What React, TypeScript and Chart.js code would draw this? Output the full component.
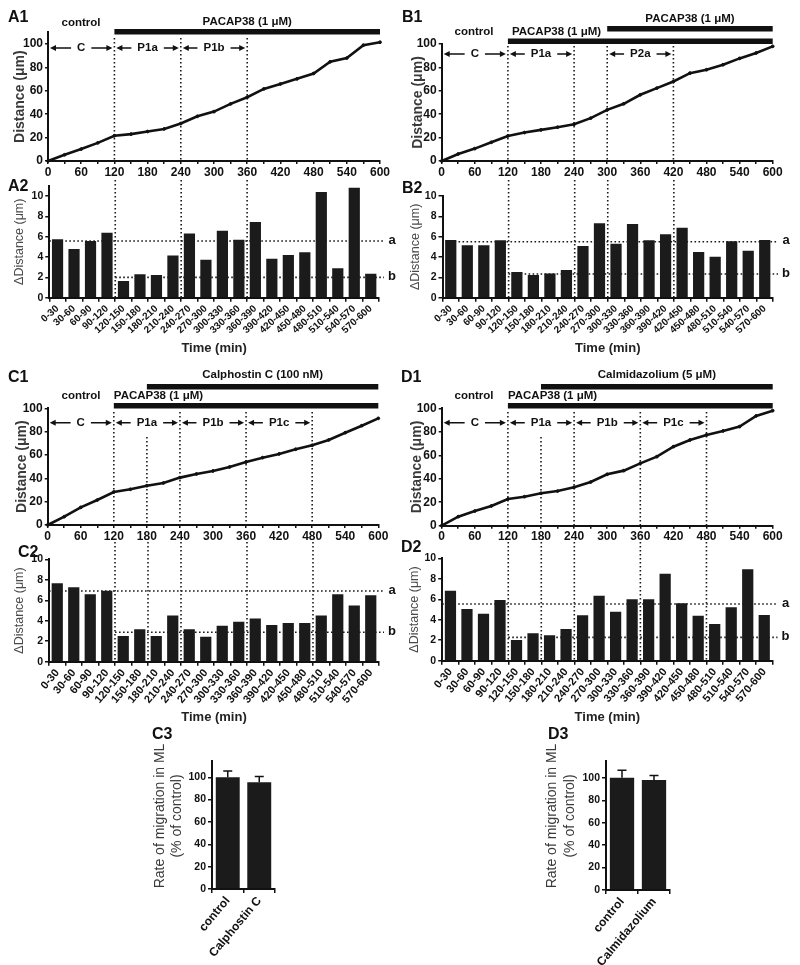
import React, { useEffect, useRef } from "react";
import { Chart, registerables } from "chart.js";
Chart.register(...registerables);

const FONT = "'Liberation Sans', Arial, Helvetica, sans-serif";
Chart.defaults.font.family = FONT;

// ---------- data ----------
const TIMES = [0, 30, 60, 90, 120, 150, 180, 210, 240, 270, 300, 330, 360, 390, 420, 450, 480, 510, 540, 570, 600];
const INTERVALS = ["0-30", "30-60", "60-90", "90-120", "120-150", "150-180", "180-210", "210-240", "240-270", "270-300", "300-330", "330-360", "360-390", "390-420", "420-450", "450-480", "480-510", "510-540", "540-570", "570-600"];

const A1_DISTANCE = [0, 5.3, 10.2, 15.5, 21.6, 23, 25.2, 27.4, 32, 38.2, 42.2, 48.8, 54.5, 61.6, 65.8, 70.2, 74.8, 84.8, 88, 99, 101.5];
const A2_DELTA = [5.74, 4.79, 5.57, 6.39, 1.64, 2.3, 2.23, 4.16, 6.3, 3.74, 6.59, 5.7, 7.44, 3.84, 4.2, 4.46, 10.39, 2.89, 10.82, 2.36];
const A2_LEVELS = [5.57, 2.0];

const B1_DISTANCE = [0, 6, 10.6, 16, 21.4, 24.3, 26.6, 28.9, 31.4, 36.6, 43.7, 48.9, 56.6, 62.3, 68, 75.1, 78, 82.3, 87.7, 92.3, 98];
const B2_DELTA = [5.67, 5.15, 5.15, 5.64, 2.52, 2.23, 2.39, 2.72, 5.08, 7.31, 5.31, 7.25, 5.64, 6.23, 6.89, 4.49, 4.03, 5.54, 4.62, 5.67];
const B2_LEVELS = [5.5, 2.33];

const C1_DISTANCE = [0, 7.1, 15.1, 21.4, 28.3, 30.6, 33.7, 36, 40.6, 43.7, 46.3, 49.7, 54, 57.7, 60.9, 64.9, 68.3, 72.9, 79.1, 85.1, 91.4];
const C2_DELTA = [7.65, 7.26, 6.58, 6.94, 2.51, 3.16, 2.51, 4.5, 3.16, 2.44, 3.52, 3.91, 4.23, 3.58, 3.78, 3.78, 4.5, 6.58, 5.5, 6.48];
const C2_LEVELS = [6.9, 2.87];

const D1_DISTANCE = [0, 7.7, 12.5, 16.8, 22.7, 24.7, 27.6, 29.5, 32.7, 37.2, 43.8, 46.9, 53.1, 58.8, 67.3, 73, 77.3, 80.7, 84.4, 93.5, 98];
const D2_DELTA = [6.84, 5.05, 4.59, 5.93, 2.02, 2.67, 2.48, 3.09, 4.43, 6.35, 4.79, 5.99, 5.99, 8.5, 5.6, 4.4, 3.58, 5.21, 8.92, 4.46];
const D2_LEVELS = [5.54, 2.28];

const LEVEL_NAMES = ["a", "b"];
const LEVEL_START = [0, 120];

const A_PHASES: [number, number, string][] = [[0, 120, "C"], [120, 240, "P1a"], [240, 360, "P1b"]];
const B_PHASES: [number, number, string][] = [[0, 120, "C"], [120, 240, "P1a"], [300, 420, "P2a"]];
const CD_PHASES: [number, number, string][] = [[0, 120, "C"], [120, 240, "P1a"], [240, 360, "P1b"], [360, 480, "P1c"]];

const A_MARKERS = [120, 240, 360];
const B_MARKERS = [120, 240, 300, 420];
const CD_MARKERS = [120, 240, 360, 480];
const CD_SUBMARKERS = [180];
const CD2_MARKERS = [120, 180, 240, 360, 480];

const A_TREATMENTS: [number, number, string][] = [[120, 600, "PACAP38 (1 μM)"]];
const B_TREATMENTS: [number, number, string][] = [[120, 600, "PACAP38 (1 μM)"], [300, 600, "PACAP38 (1 μM)"]];
const C_TREATMENTS: [number, number, string][] = [[120, 600, "PACAP38 (1 μM)"], [180, 600, "Calphostin C (100 nM)"]];
const D_TREATMENTS: [number, number, string][] = [[120, 600, "PACAP38 (1 μM)"], [180, 600, "Calmidazolium (5 μM)"]];

const C3_GROUPS = ["control", "Calphostin C"];
const C3_RATE = [100, 95.5];
const C3_SEM = [5.7, 5.1];
const D3_GROUPS = ["control", "Calmidazolium"];
const D3_RATE = [100, 98];
const D3_SEM = [6.8, 4.1];
const RATE_TITLE = ["Rate of migration in ML", "(% of control)"];

// ---------- helpers ----------
const INK = "#111";
const BAR = "#1b1b1b";

type Rect = { x: number; y: number; w: number; h: number };
type Plot = { l: number; r: number; t: number; b: number };

function frame(rect: Rect, plot: Plot) {
  return {
    padTop: plot.t - rect.y,
    padRight: rect.x + rect.w - plot.r,
    wy: plot.l - rect.x,
    hx: rect.y + rect.h - plot.b,
  };
}

function axisStyle(tickLength: number) {
  return {
    grid: { drawOnChartArea: false, drawTicks: true, tickLength, color: INK, lineWidth: 1.5 },
    border: { display: true, color: INK, width: 2 },
  };
}

function dotted(ctx: any, x1: number, y1: number, x2: number, y2: number) {
  ctx.save();
  ctx.strokeStyle = "#1a1a1a";
  ctx.lineWidth = 1.6;
  ctx.setLineDash([1.6, 2.4]);
  ctx.beginPath();
  ctx.moveTo(x1, y1);
  ctx.lineTo(x2, y2);
  ctx.stroke();
  ctx.restore();
}

function arrowHead(ctx: any, x: number, y: number, dir: number) {
  ctx.beginPath();
  ctx.moveTo(x, y);
  ctx.lineTo(x - dir * 6, y - 3);
  ctx.lineTo(x - dir * 6, y + 3);
  ctx.closePath();
  ctx.fill();
}

// ---------- line panels ----------
function lineConfig(s: any) {
  const f = frame(s.rect, s.plot);
  const plugin = {
    id: "lineAnn",
    beforeDatasetsDraw(chart: any) {
      const ctx = chart.ctx;
      const x = chart.scales.x;
      const bottom = chart.chartArea.bottom;
      s.markers.forEach((m: number) => dotted(ctx, x.getPixelForValue(m), s.markerTop, x.getPixelForValue(m), bottom));
      (s.subMarkers || []).forEach((m: number) => dotted(ctx, x.getPixelForValue(m), s.subTop, x.getPixelForValue(m), bottom));
    },
    afterDraw(chart: any) {
      const ctx = chart.ctx;
      const x = chart.scales.x;
      ctx.save();
      ctx.fillStyle = INK;
      ctx.strokeStyle = INK;
      ctx.textBaseline = "middle";
      ctx.font = `bold 16px ${FONT}`;
      ctx.textAlign = "left";
      ctx.fillText(s.label.text, s.label.x, s.label.y);
      ctx.font = `bold 11.5px ${FONT}`;
      ctx.textAlign = "center";
      ctx.fillText("control", s.control.x, s.control.y);
      s.treatments.forEach((t: [number, number, string], i: number) => {
        const lay = s.treatLayout[i];
        const x1 = x.getPixelForValue(t[0]);
        const x2 = x.getPixelForValue(t[1]);
        ctx.fillRect(x1, lay.barY, x2 - x1, 5.5);
        if (lay.align === "center") {
          ctx.textAlign = "center";
          ctx.fillText(t[2], (x1 + x2) / 2, lay.textY);
        } else {
          ctx.textAlign = "left";
          ctx.fillText(t[2], x1 + lay.dx, lay.textY);
        }
      });
      const y = s.arrowY;
      s.phases.forEach(([a, b, lab]: [number, number, string]) => {
        const x1 = x.getPixelForValue(a) + 2;
        const x2 = x.getPixelForValue(b) - 2;
        const mid = (x1 + x2) / 2;
        const w = ctx.measureText(lab).width;
        ctx.lineWidth = 1.4;
        ctx.beginPath();
        ctx.moveTo(x1 + 4, y);
        ctx.lineTo(mid - w / 2 - 6, y);
        ctx.moveTo(mid + w / 2 + 6, y);
        ctx.lineTo(x2 - 4, y);
        ctx.stroke();
        arrowHead(ctx, x1, y, -1);
        arrowHead(ctx, x2, y, 1);
        ctx.textAlign = "center";
        ctx.fillText(lab, mid, y);
      });
      ctx.restore();
    },
  };
  return {
    type: "line",
    data: {
      datasets: [
        {
          data: TIMES.map((t, i) => ({ x: t, y: s.values[i] })),
          borderColor: INK,
          borderWidth: 2.6,
          pointRadius: 1.4,
          pointBackgroundColor: INK,
          pointBorderColor: INK,
          pointBorderWidth: 1,
          tension: 0,
          clip: false,
        },
      ],
    },
    options: {
      responsive: false,
      animation: false,
      devicePixelRatio: 1,
      layout: { padding: { top: f.padTop, right: f.padRight, left: 0, bottom: 0 } },
      plugins: { legend: { display: false }, tooltip: { enabled: false } },
      scales: {
        x: {
          type: "linear",
          min: 0,
          max: 600,
          afterFit: (sc: any) => { sc.height = f.hx; },
          ticks: {
            stepSize: 30,
            autoSkip: false,
            maxRotation: 0,
            padding: 1,
            color: INK,
            font: { size: 12, weight: "bold" },
            callback: (v: number) => (v % 60 === 0 ? String(v) : ""),
          },
          ...axisStyle(3),
        },
        y: {
          min: 0,
          max: s.yMax,
          afterFit: (sc: any) => { sc.width = f.wy; },
          ticks: { stepSize: 20, includeBounds: false, padding: 2, color: INK, font: { size: 12, weight: "bold" } },
          title: {
            display: true,
            text: "Distance (μm)",
            color: "#3a3a3a",
            font: { size: 14, weight: "bold" },
            padding: { top: s.yTitlePad, bottom: 0 },
          },
          ...axisStyle(3),
        },
      },
    },
    plugins: [plugin],
  };
}

// ---------- bar panels ----------
function barConfig(s: any) {
  const f = frame(s.rect, s.plot);
  const toIdx = (m: number) => m / 30 - 0.5;
  const plugin = {
    id: "barAnn",
    beforeDatasetsDraw(chart: any) {
      const ctx = chart.ctx;
      const x = chart.scales.x;
      const y = chart.scales.y;
      const { bottom, right } = chart.chartArea;
      s.levels.forEach((v: number, i: number) => {
        const py = y.getPixelForValue(v);
        dotted(ctx, x.getPixelForValue(toIdx(LEVEL_START[i])), py, right + 5, py);
      });
      s.markers.forEach((m: number) => {
        const px = x.getPixelForValue(toIdx(m));
        dotted(ctx, px, s.markerTop, px, bottom);
      });
    },
    afterDraw(chart: any) {
      const ctx = chart.ctx;
      const y = chart.scales.y;
      const { right } = chart.chartArea;
      ctx.save();
      ctx.fillStyle = INK;
      ctx.textBaseline = "middle";
      ctx.font = `bold 16px ${FONT}`;
      ctx.textAlign = "left";
      ctx.fillText(s.label.text, s.label.x, s.label.y);
      ctx.font = `bold 13px ${FONT}`;
      ctx.textAlign = "center";
      s.levels.forEach((v: number, i: number) => {
        ctx.fillText(LEVEL_NAMES[i], right + 13, y.getPixelForValue(v) - 1);
      });
      ctx.restore();
    },
  };
  return {
    type: "bar",
    data: {
      labels: INTERVALS,
      datasets: [{ data: s.values, backgroundColor: BAR, barPercentage: 0.68, categoryPercentage: 1 }],
    },
    options: {
      responsive: false,
      animation: false,
      devicePixelRatio: 1,
      layout: { padding: { top: f.padTop, right: f.padRight, left: 0, bottom: 0 } },
      plugins: { legend: { display: false }, tooltip: { enabled: false } },
      scales: {
        x: {
          afterFit: (sc: any) => { sc.height = f.hx; },
          ticks: {
            autoSkip: false,
            minRotation: s.rot,
            maxRotation: s.rot,
            padding: 1,
            color: INK,
            font: { size: s.tickSize, weight: "bold" },
          },
          title: {
            display: true,
            text: "Time (min)",
            color: "#222",
            font: { size: 13, weight: "bold" },
            padding: { top: 0, bottom: s.xTitlePad },
          },
          ...axisStyle(4),
        },
        y: {
          min: 0,
          max: s.yMax,
          afterFit: (sc: any) => { sc.width = f.wy; },
          ticks: { stepSize: 2, includeBounds: false, padding: 2, color: INK, font: { size: 10.5, weight: "bold" } },
          title: {
            display: true,
            text: "ΔDistance (μm)",
            color: "#4a4a4a",
            font: { size: 12.5 },
            padding: { top: s.yTitlePad, bottom: 0 },
          },
          ...axisStyle(4),
        },
      },
    },
    plugins: [plugin],
  };
}

// ---------- rate panels ----------
function rateConfig(s: any) {
  const f = frame(s.rect, s.plot);
  const plugin = {
    id: "rateAnn",
    afterDatasetsDraw(chart: any) {
      const ctx = chart.ctx;
      const x = chart.scales.x;
      const y = chart.scales.y;
      ctx.save();
      ctx.strokeStyle = INK;
      ctx.lineWidth = 1.5;
      s.values.forEach((v: number, i: number) => {
        const px = x.getPixelForValue(i);
        const y1 = y.getPixelForValue(v);
        const y2 = y.getPixelForValue(v + s.sem[i]);
        ctx.beginPath();
        ctx.moveTo(px, y1);
        ctx.lineTo(px, y2);
        ctx.moveTo(px - 4.5, y2);
        ctx.lineTo(px + 4.5, y2);
        ctx.stroke();
      });
      ctx.restore();
    },
    afterDraw(chart: any) {
      const ctx = chart.ctx;
      ctx.save();
      ctx.fillStyle = INK;
      ctx.textBaseline = "middle";
      ctx.textAlign = "left";
      ctx.font = `bold 16px ${FONT}`;
      ctx.fillText(s.label.text, s.label.x, s.label.y);
      // axis title (two lines, rotated)
      ctx.fillStyle = "#3a3a3a";
      ctx.font = `14px ${FONT}`;
      ctx.textAlign = "center";
      RATE_TITLE.forEach((line, i) => {
        ctx.save();
        ctx.translate(s.titleX[i], s.titleY);
        ctx.rotate(-Math.PI / 2);
        ctx.fillText(line, 0, 0);
        ctx.restore();
      });
      ctx.restore();
    },
  };
  return {
    type: "bar",
    data: {
      labels: s.groups,
      datasets: [{ data: s.values, backgroundColor: BAR, barPercentage: 0.76, categoryPercentage: 1 }],
    },
    options: {
      responsive: false,
      animation: false,
      devicePixelRatio: 1,
      layout: { padding: { top: f.padTop, right: f.padRight, left: 0, bottom: 0 } },
      plugins: { legend: { display: false }, tooltip: { enabled: false } },
      scales: {
        x: {
          afterFit: (sc: any) => { sc.height = f.hx; },
          ticks: { autoSkip: false, minRotation: 50, maxRotation: 50, padding: 1, color: INK, font: { size: 12, weight: "bold" } },
          ...axisStyle(4),
        },
        y: {
          min: 0,
          max: 115,
          afterFit: (sc: any) => { sc.width = f.wy; },
          ticks: { stepSize: 20, includeBounds: false, padding: 2, color: INK, font: { size: 10.5, weight: "bold" } },
          ...axisStyle(4),
        },
      },
    },
    plugins: [plugin],
  };
}

// ---------- panel specs (layout) ----------
const PANELS: { rect: Rect; make: () => any }[] = [
  {
    rect: { x: 0, y: 0, w: 400, h: 185 },
    make: () => lineConfig({
      rect: { x: 0, y: 0, w: 400, h: 185 }, plot: { l: 48, r: 380, t: 32.3, b: 161 },
      values: A1_DISTANCE, yMax: 110, yTitlePad: 11.6,
      label: { text: "A1", x: 8, y: 18 }, control: { x: 81, y: 23 },
      treatments: A_TREATMENTS, treatLayout: [{ barY: 29, textY: 22, align: "center" }],
      phases: A_PHASES, arrowY: 48, markers: A_MARKERS, markerTop: 38,
    }),
  },
  {
    rect: { x: 400, y: 0, w: 400, h: 185 },
    make: () => lineConfig({
      rect: { x: 400, y: 0, w: 400, h: 185 }, plot: { l: 441.7, r: 772.7, t: 44, b: 161 },
      values: B1_DISTANCE, yMax: 100, yTitlePad: 9.6,
      label: { text: "B1", x: 2, y: 18 }, control: { x: 74, y: 32 },
      treatments: B_TREATMENTS,
      treatLayout: [{ barY: 38.5, textY: 32, align: "left", dx: 4 }, { barY: 26, textY: 19, align: "center" }],
      phases: B_PHASES, arrowY: 54, markers: B_MARKERS, markerTop: 46,
    }),
  },
  {
    rect: { x: 0, y: 365, w: 400, h: 180 },
    make: () => lineConfig({
      rect: { x: 0, y: 365, w: 400, h: 180 }, plot: { l: 47.7, r: 378.3, t: 408.3, b: 525 },
      values: C1_DISTANCE, yMax: 100, yTitlePad: 13.3,
      label: { text: "C1", x: 8, y: 13 }, control: { x: 81, y: 31 },
      treatments: C_TREATMENTS,
      treatLayout: [{ barY: 38, textY: 31, align: "left", dx: 0 }, { barY: 19, textY: 10, align: "center" }],
      phases: CD_PHASES, arrowY: 57.7, markers: CD_MARKERS, markerTop: 47, subMarkers: CD_SUBMARKERS, subTop: 72,
    }),
  },
  {
    rect: { x: 400, y: 365, w: 400, h: 180 },
    make: () => lineConfig({
      rect: { x: 400, y: 365, w: 400, h: 180 }, plot: { l: 441.7, r: 772.7, t: 408.3, b: 525.7 },
      values: D1_DISTANCE, yMax: 100, yTitlePad: 8.6,
      label: { text: "D1", x: 1, y: 13 }, control: { x: 74, y: 31 },
      treatments: D_TREATMENTS,
      treatLayout: [{ barY: 38, textY: 31, align: "left", dx: 0 }, { barY: 19, textY: 10, align: "center" }],
      phases: CD_PHASES, arrowY: 57.7, markers: CD_MARKERS, markerTop: 47, subMarkers: CD_SUBMARKERS, subTop: 72,
    }),
  },
  {
    rect: { x: 0, y: 175, w: 400, h: 190 },
    make: () => barConfig({
      rect: { x: 0, y: 175, w: 400, h: 190 }, plot: { l: 49.3, r: 379, t: 185.8, b: 297.7 },
      values: A2_DELTA, levels: A2_LEVELS, yMax: 11, rot: 42, tickSize: 10, yTitlePad: 12.5, xTitlePad: 9.2,
      label: { text: "A2", x: 8, y: 12 }, markers: A_MARKERS, markerTop: 5,
    }),
  },
  {
    rect: { x: 400, y: 175, w: 400, h: 190 },
    make: () => barConfig({
      rect: { x: 400, y: 175, w: 400, h: 190 }, plot: { l: 442.5, r: 773, t: 196, b: 297.7 },
      values: B2_DELTA, levels: B2_LEVELS, yMax: 10, rot: 42, tickSize: 10, yTitlePad: 8.5, xTitlePad: 9.2,
      label: { text: "B2", x: 2, y: 14 }, markers: B_MARKERS, markerTop: 5,
    }),
  },
  {
    rect: { x: 0, y: 535, w: 400, h: 210 },
    make: () => barConfig({
      rect: { x: 0, y: 535, w: 400, h: 210 }, plot: { l: 49, r: 379, t: 559.3, b: 661.7 },
      values: C2_DELTA, levels: C2_LEVELS, yMax: 10, rot: 50, tickSize: 11, yTitlePad: 12.5, xTitlePad: 20.2,
      label: { text: "C2", x: 18, y: 18 }, markers: CD2_MARKERS, markerTop: 7,
    }),
  },
  {
    rect: { x: 400, y: 535, w: 400, h: 210 },
    make: () => barConfig({
      rect: { x: 400, y: 535, w: 400, h: 210 }, plot: { l: 442.2, r: 772.5, t: 558.3, b: 660.7 },
      values: D2_DELTA, levels: D2_LEVELS, yMax: 10, rot: 50, tickSize: 11, yTitlePad: 7.5, xTitlePad: 20.2,
      label: { text: "D2", x: 1, y: 13 }, markers: CD2_MARKERS, markerTop: 7,
    }),
  },
  {
    rect: { x: 130, y: 720, w: 200, h: 245 },
    make: () => rateConfig({
      rect: { x: 130, y: 720, w: 200, h: 245 }, plot: { l: 212, r: 275, t: 760.5, b: 889 },
      groups: C3_GROUPS, values: C3_RATE, sem: C3_SEM,
      titleX: [30, 47], titleY: 96,
      label: { text: "C3", x: 22, y: 15 },
    }),
  },
  {
    rect: { x: 530, y: 720, w: 200, h: 245 },
    make: () => rateConfig({
      rect: { x: 530, y: 720, w: 200, h: 245 }, plot: { l: 606, r: 670, t: 761, b: 890 },
      groups: D3_GROUPS, values: D3_RATE, sem: D3_SEM,
      titleX: [22, 40], titleY: 96,
      label: { text: "D3", x: 18, y: 15 },
    }),
  },
];

function Panel({ rect, make }: { rect: Rect; make: () => any }) {
  const ref = useRef<HTMLCanvasElement | null>(null);
  useEffect(() => {
    if (!ref.current) return;
    const chart = new Chart(ref.current, make());
    return () => chart.destroy();
  }, []);
  return (
    <canvas
      ref={ref}
      width={rect.w}
      height={rect.h}
      style={{ position: "absolute", left: rect.x, top: rect.y, width: rect.w, height: rect.h }}
    />
  );
}

export default function App() {
  return (
    <div style={{ position: "absolute", left: 0, top: 0, width: 800, height: 965, background: "#fff" }}>
      {PANELS.map((p, i) => (
        <Panel key={i} rect={p.rect} make={p.make} />
      ))}
    </div>
  );
}
